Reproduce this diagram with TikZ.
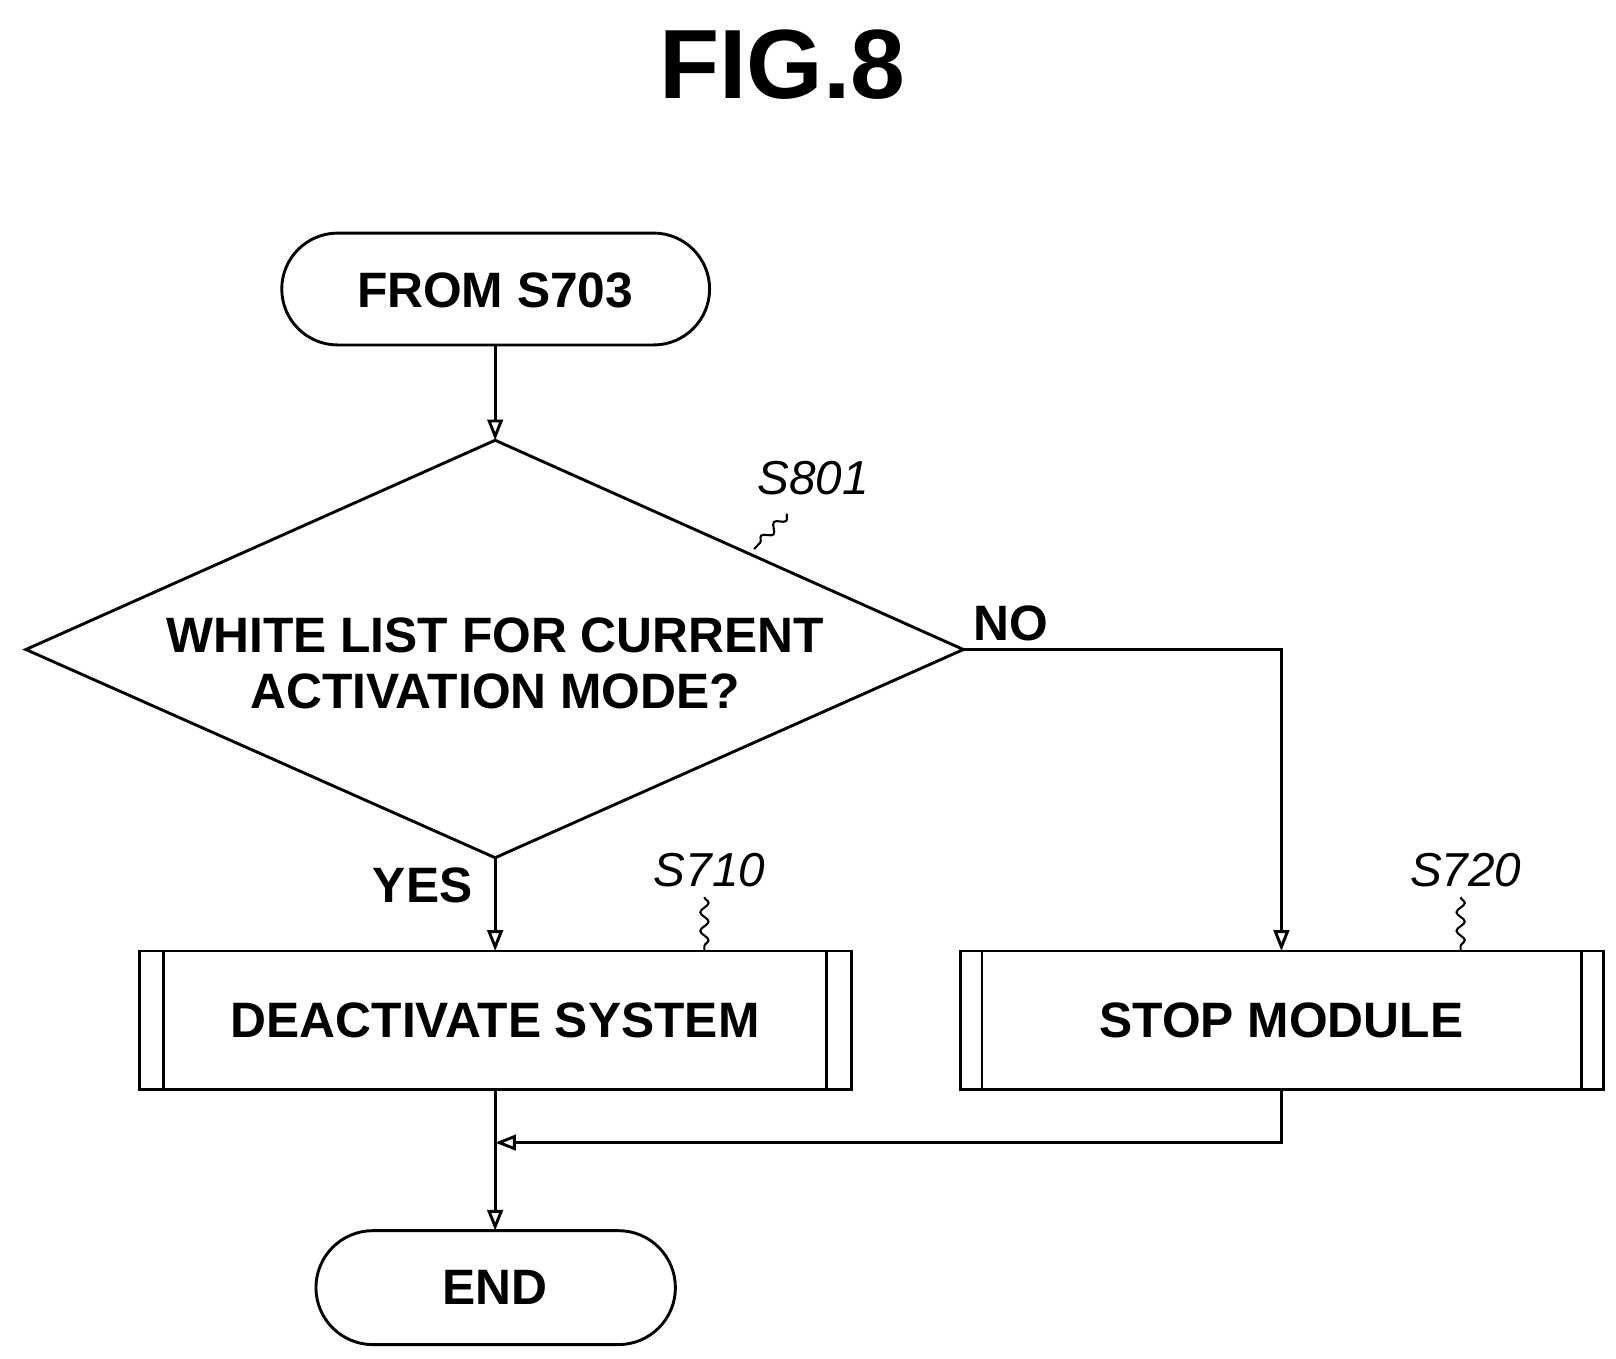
\documentclass[tikz,border=0pt]{standalone}
\usepackage{fontspec}
\setmainfont{Liberation Sans}
\usetikzlibrary{arrows.meta,decorations.pathmorphing}
\begin{document}
\begin{tikzpicture}[x=1pt,y=-1pt,line width=2.8pt,
  lbl/.style={font=\fontsize{48}{54}\selectfont\bfseries,align=center},
  ref/.style={font=\fontsize{46}{50}\selectfont\itshape},
  arr/.style={-{Triangle[length=20pt,width=15pt,open]}},
  sq/.style={line width=2pt,decorate,decoration={snake,amplitude=4pt,segment length=18pt}}]
\useasboundingbox (0,0) rectangle (1560,1311);
\node[font=\fontsize{95}{100}\selectfont\bfseries] (title) at (755,62) {FIG.8};
\draw[rounded corners=54pt] (272,225) rectangle (685,333);
\node[lbl] (start) at (478,280) {FROM S703};
\coordinate (st) at (478,333);
\coordinate (dt) at (478,425);
\coordinate (dl) at (25,627);
\coordinate (dr) at (930,627);
\coordinate (db) at (478,828);
\draw (dt) -- (dr) -- (db) -- (dl) -- cycle;
\node[lbl] (q) at (478,640) {WHITE LIST FOR CURRENT\\ACTIVATION MODE?};
\draw[arr] (st) -- (dt);
\node[ref] (s801) at (785,462) {S801};
\draw[sq] (760,496) -- (728,530);
\node[lbl,anchor=west] (no) at (935,602) {NO};
\node[lbl] (yes) at (408,855) {YES};
\draw (135,918) rectangle (822,1052); \draw (158,918) -- (158,1052); \draw (798,918) -- (798,1052);
\node[lbl] (b1) at (478,985) {DEACTIVATE SYSTEM};
\draw (927,918) rectangle (1548,1052); \draw (948,918) -- (948,1052); \draw (1527,918) -- (1527,1052);
\node[lbl] (b2) at (1237,985) {STOP MODULE};
\coordinate (b1t) at (478,918); \coordinate (b2t) at (1237,918);
\coordinate (b1b) at (478,1052); \coordinate (b2b) at (1237,1052);
\coordinate (mj) at (478,1103);
\draw[arr] (db) -- (b1t);
\draw[arr] (dr) -| (b2t);
\node[ref] (s710) at (685,840) {S710};
\draw[sq] (680,866) -- (680,918);
\node[ref] (s720) at (1415,840) {S720};
\draw[sq] (1410,866) -- (1410,918);
\draw[arr] (b2b) |- (mj);
\coordinate (et) at (478,1188);
\draw[arr] (b1b) -- (et);
\draw[rounded corners=55pt] (305,1188) rectangle (652,1298);
\node[lbl] (end) at (478,1243) {END};
\end{tikzpicture}
\end{document}
